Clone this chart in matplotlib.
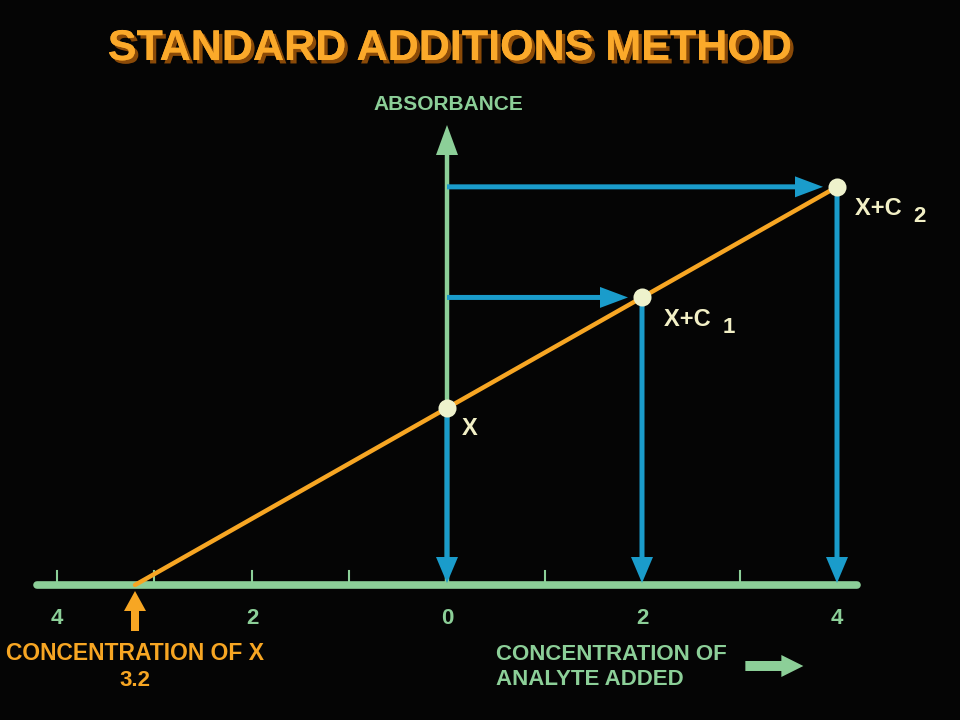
import matplotlib
matplotlib.use("Agg")
import matplotlib.pyplot as plt
from matplotlib.patches import FancyArrow
import matplotlib.patheffects as pe

# ---- data ----
conc_added = [0, 2, 4]
absorbance = [0.32, 0.52, 0.72]
point_labels = ["X", "X+C 1", "X+C 2"]
x_intercept = -3.2
tick_values = [-4, -3, -2, -1, 0, 1, 2, 3, 4]
label_values = [-4, -2, 0, 2, 4]
label_texts = ["4", "2", "0", "2", "4"]

BG = "#050505"
GREEN = "#8ccf98"
BLUE = "#1a9ccb"
ORANGE = "#f7a623"
POINT = "#eef2cc"
LABEL = "#f2f0c6"
FONT = "Liberation Sans"

fig = plt.figure(figsize=(9.6, 7.2), dpi=100, facecolor=BG)
ax = fig.add_axes([0, 0, 1, 1])
ax.set_facecolor(BG)
# pixel mapping: x_px = 447 + 97.5*x ; y_px(from top) = 585 - 553*y
ax.set_xlim(-447 / 97.5, (960 - 447) / 97.5)
ax.set_ylim(-135 / 553, 585 / 553)
ax.axis("off")

px = 1 / 97.5  # one pixel in x data units
py = 1 / 553   # one pixel in y data units

# horizontal axis
ax.plot([-4.2, 4.2], [0, 0], color=GREEN, lw=5.5, solid_capstyle="round", zorder=2)
for t in tick_values:
    ax.plot([t, t], [0, 14 * py], color=GREEN, lw=1.5, zorder=2)
for v, s in zip(label_values, label_texts):
    ax.text(v, -33 * py, s, color=GREEN, fontsize=16, fontweight="bold",
            ha="center", va="center", family=FONT)

# vertical axis (absorbance)
ax.plot([0, 0], [0, 440 * py], color=GREEN, lw=3.2, zorder=3)
ax.add_patch(FancyArrow(0, 430 * py, 0, 30 * py, width=3 * px,
                        head_width=22 * px, head_length=30 * py,
                        length_includes_head=True, color=GREEN, lw=0, zorder=3))
ax.text(-74 * px, 481 * py, "ABSORBANCE", color=GREEN, fontsize=15,
        fontweight="bold", ha="left", va="center", family=FONT)

# blue arrows
for c, a in zip(conc_added, absorbance):
    ax.add_patch(FancyArrow(c, a, 0, -(a - 2 * py), width=5 * px,
                            head_width=22 * px, head_length=26 * py,
                            length_includes_head=True, color=BLUE, lw=0, zorder=4))
    if c != 0:
        ax.add_patch(FancyArrow(0, a, c - 14 * px, 0, width=5 * py,
                                head_width=21 * py, head_length=28 * px,
                                length_includes_head=True, color=BLUE, lw=0, zorder=4))

# orange regression line
ax.plot([x_intercept, conc_added[-1]], [0, absorbance[-1]], color=ORANGE,
        lw=3.2, solid_capstyle="round", zorder=5)

# points
ax.plot(conc_added, absorbance, "o", color=POINT, markersize=13, zorder=6,
        markeredgewidth=0)

# point labels
label_offsets = [(15, -20), (22, -22), (18, -22)]
for (c, a), lab, (dx, dy) in zip(zip(conc_added, absorbance), point_labels, label_offsets):
    if " " in lab:
        main, sub = lab.split(" ")
        t = ax.text(c + dx * px, a + dy * py, main + " ", color=LABEL, fontsize=17,
                    fontweight="bold", ha="left", va="center", family=FONT)
        fig.canvas.draw()
        bb = t.get_window_extent()
        ax.text(c + dx * px + (bb.width + 5) * px, a + (dy - 8) * py, sub, color=LABEL,
                fontsize=16, fontweight="bold", ha="left", va="center", family=FONT)
    else:
        ax.text(c + dx * px, a + dy * py, lab, color=LABEL, fontsize=17,
                fontweight="bold", ha="left", va="center", family=FONT)

# orange up-arrow at x intercept
ax.add_patch(FancyArrow(x_intercept, -46 * py, 0, 40 * py, width=8 * px,
                        head_width=22 * px, head_length=20 * py,
                        length_includes_head=True, color=ORANGE, lw=0, zorder=5))

ax.text(x_intercept, -69 * py, "CONCENTRATION OF X", color=ORANGE, fontsize=16.5,
        fontweight="bold", ha="center", va="center", family=FONT)
ax.text(x_intercept, -96 * py, "3.2", color=ORANGE, fontsize=16,
        fontweight="bold", ha="center", va="center", family=FONT)

# x-axis title
ax.text(49 * px, -82 * py, "CONCENTRATION OF\nANALYTE ADDED", color=GREEN,
        fontsize=16, fontweight="bold", ha="left", va="center",
        linespacing=1.25, family=FONT)
ax.add_patch(FancyArrow(3.06, -81 * py, 58 * px, 0, width=10 * py,
                        head_width=22 * py, head_length=22 * px,
                        length_includes_head=True, color=GREEN, lw=0, zorder=5))

# title with shadow
title = "STANDARD ADDITIONS METHOD"
tx, ty = (449 - 447) * px, (585 - 49) * py
ax.text(tx, ty, title, color="#fba92a", fontsize=31,
        fontweight="bold", ha="center", va="center", family=FONT,
        path_effects=[pe.withSimplePatchShadow(offset=(2.5, -2.5),
                                               shadow_rgbFace="#8a4a08", alpha=1.0),
                      pe.Normal()])

fig.savefig("out.png", dpi=100, facecolor=BG)
